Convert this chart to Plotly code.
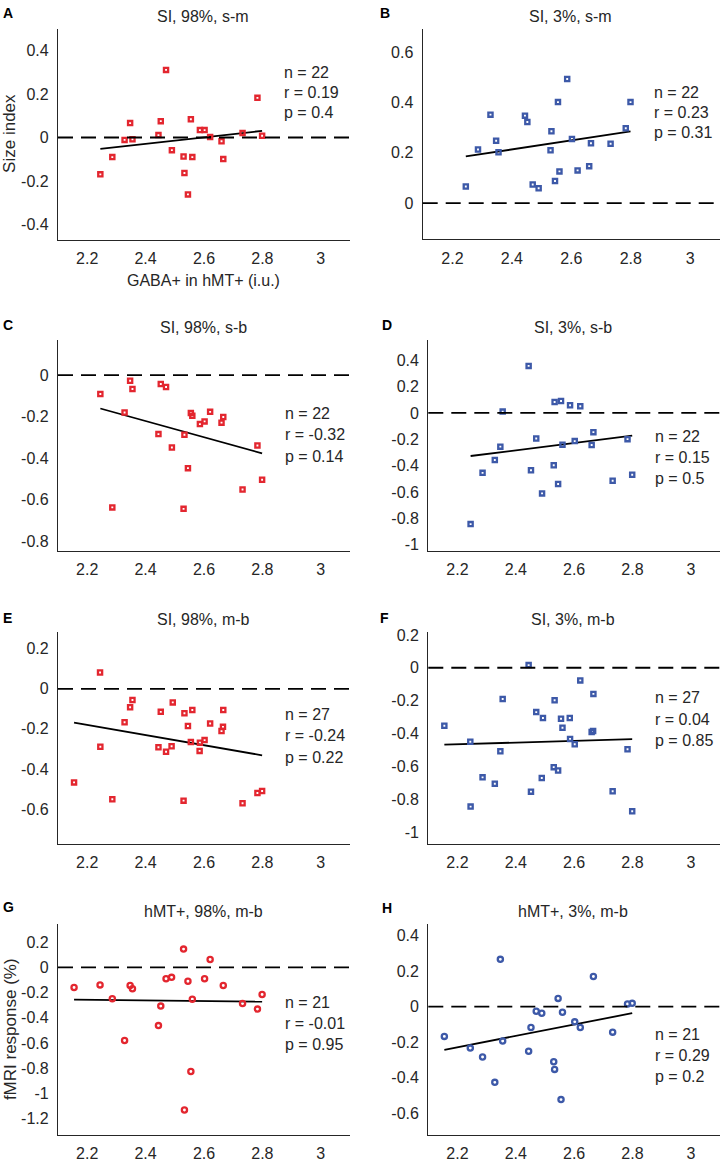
import numpy as np
import plotly.graph_objects as go

W, H = 721, 1162

# ---------------- data ----------------
gaba_22 = [2.245, 2.286, 2.328, 2.347, 2.355, 2.444, 2.452, 2.470, 2.490, 2.530, 2.533,
           2.545, 2.555, 2.560, 2.586, 2.602, 2.621, 2.660, 2.666, 2.732, 2.783, 2.799]
gaba_27 = [2.155, 2.244, 2.245, 2.286, 2.328, 2.347, 2.355, 2.444, 2.452, 2.470, 2.489,
           2.493, 2.530, 2.533, 2.545, 2.555, 2.560, 2.585, 2.586, 2.602, 2.621, 2.660,
           2.665, 2.666, 2.732, 2.783, 2.799]
gaba_21 = [2.155, 2.244, 2.286, 2.328, 2.347, 2.355, 2.444, 2.452, 2.470, 2.489, 2.530,
           2.533, 2.545, 2.555, 2.560, 2.602, 2.621, 2.666, 2.732, 2.783, 2.799]

si_98_sm = [-0.169, -0.090, -0.011, 0.066, -0.008, 0.011, 0.075, 0.310, -0.058, -0.087, -0.163,
            -0.261, 0.084, -0.090, 0.034, 0.034, 0.002, -0.017, -0.099, 0.021, 0.182, 0.008]
si_3_sm = [0.066, 0.213, 0.352, 0.248, 0.202, 0.348, 0.323, 0.074, 0.059, 0.210, 0.286,
           0.088, 0.402, 0.126, 0.494, 0.255, 0.130, 0.147, 0.238, 0.236, 0.298, 0.402]
si_98_sb = [-0.091, -0.637, -0.180, -0.027, -0.067, -0.284, -0.043, -0.057, -0.349, -0.644, -0.287,
            -0.448, -0.182, -0.196, -0.236, -0.223, -0.177, -0.229, -0.202, -0.551, -0.339, -0.504]
si_3_sb = [-0.844, -0.455, -0.357, -0.256, 0.010, 0.357, -0.435, -0.194, -0.611, -0.397, 0.083,
           -0.540, 0.090, -0.241, 0.058, -0.214, 0.050, -0.244, -0.146, -0.515, -0.199, -0.470]
si_98_mb = [-0.467, 0.081, -0.289, -0.551, -0.167, -0.092, -0.056, -0.292, -0.115, -0.314, -0.287,
            -0.068, -0.558, -0.122, -0.186, -0.266, -0.106, -0.310, -0.269, -0.256, -0.173, -0.211,
            -0.190, -0.106, -0.571, -0.520, -0.510]
si_3_mb = [-0.353, -0.450, -0.845, -0.667, -0.706, -0.508, -0.190, 0.016, -0.754, -0.270, -0.671,
           -0.306, -0.605, -0.198, -0.625, -0.310, -0.365, -0.306, -0.433, -0.466, -0.077, -0.391,
           -0.385, -0.159, -0.752, -0.496, -0.873]
fmri_98_mb = [-0.160, -0.139, -0.249, -0.580, -0.144, -0.170, -0.462, -0.307, -0.090, -0.079, 0.145,
              -1.132, -0.110, -0.826, -0.252, -0.090, 0.063, -0.144, -0.286, -0.331, -0.215]
fmri_3_mb = [-0.168, -0.234, -0.284, -0.427, 0.266, -0.194, -0.252, -0.118, -0.026, -0.038, -0.311,
             -0.354, 0.046, -0.524, -0.032, -0.086, -0.118, 0.169, -0.144, 0.015, 0.018]

titles = ["SI, 98%, s-m", "SI, 3%, s-m", "SI, 98%, s-b", "SI, 3%, s-b",
          "SI, 98%, m-b", "SI, 3%, m-b", "hMT+, 98%, m-b", "hMT+, 3%, m-b"]
labels = ["A", "B", "C", "D", "E", "F", "G", "H"]
stat_n = ["22", "22", "22", "22", "27", "27", "21", "21"]
stat_r = ["0.19", "0.23", "-0.32", "0.15", "-0.24", "0.04", "-0.01", "0.29"]
stat_p = ["0.4", "0.31", "0.14", "0.5", "0.22", "0.85", "0.95", "0.2"]
xs = [gaba_22, gaba_22, gaba_22, gaba_22, gaba_27, gaba_27, gaba_21, gaba_21]
ys = [si_98_sm, si_3_sm, si_98_sb, si_3_sb, si_98_mb, si_3_mb, fmri_98_mb, fmri_3_mb]
y_ranges = [(-0.47, 0.5), (-0.145, 0.695), (-0.845, 0.17), (-1.045, 0.555),
            (-0.773, 0.282), (-1.071, 0.216), (-1.329, 0.344), (-0.723, 0.465)]
y_ticks = [[-0.4, -0.2, 0, 0.2, 0.4], [0, 0.2, 0.4, 0.6], [-0.8, -0.6, -0.4, -0.2, 0],
           [-1, -0.8, -0.6, -0.4, -0.2, 0, 0.2, 0.4], [-0.6, -0.4, -0.2, 0, 0.2],
           [-1, -0.8, -0.6, -0.4, -0.2, 0, 0.2], [-1.2, -1, -0.8, -0.6, -0.4, -0.2, 0, 0.2],
           [-0.6, -0.4, -0.2, 0, 0.2, 0.4]]
x_ticks = [2.2, 2.4, 2.6, 2.8, 3]
x_range = (2.1, 3.1)

RED = "#E3262F"
BLUE = "#3D59A8"
colors = [RED, BLUE] * 4
symbols = ["square-open"] * 6 + ["circle-open"] * 2

# ---------------- layout (pixel boxes) ----------------
boxes = [  # left, right, top, bottom in pixels
    (58, 350, 22.7, 236), (422.7, 720, 22.7, 235.5),
    (58, 350, 336.7, 549.3), (428.3, 720, 336.7, 549.3),
    (58, 350, 631.7, 845), (428.3, 720, 631.7, 845),
    (58, 350, 926, 1138.7), (428.3, 720, 926, 1138.7),
]
label_pos = [(1, 7), (378, 7), (1, 322), (380, 322), (1, 617), (378, 617), (1, 909), (380, 910)]
stat_pos = [(282, 67), (652, 87), (283, 411), (653, 434), (283, 715), (653, 698), (283, 1005), (653, 1037)]
stat_gap = [20.3, 20.3, 21.5, 21.5, 21.3, 21.3, 21.3, 21.3]

FONT = "Liberation Sans, Arial, sans-serif"
TXT = "#262626"


def fmt(v):
    return "%g" % v


def px(x):
    return x / W


def py(y):
    return 1 - y / H


fig = go.Figure()
shapes = []
annotations = []
layout_axes = {}

for i in range(8):
    k = "" if i == 0 else str(i + 1)
    xa, ya = "x" + k, "y" + k
    l, r, t, b = boxes[i]
    layout_axes["xaxis" + k] = dict(
        domain=[px(l), px(r)], range=list(x_range), anchor=ya, fixedrange=True,
        tickvals=x_ticks, ticktext=[fmt(v) for v in x_ticks],
        showgrid=False, zeroline=False, showline=True, linecolor=TXT, linewidth=1.3,
        ticks="", ticklabelstandoff=4, tickfont=dict(family=FONT, size=16, color=TXT),
    )
    layout_axes["yaxis" + k] = dict(
        domain=[py(b), py(t)], range=list(y_ranges[i]), anchor=xa, fixedrange=True,
        tickvals=y_ticks[i], ticktext=[fmt(v) for v in y_ticks[i]],
        showgrid=False, zeroline=False, showline=True, linecolor=TXT, linewidth=1.3,
        ticks="", ticklabelstandoff=5, tickfont=dict(family=FONT, size=16, color=TXT),
    )

    x = np.array(xs[i]); y = np.array(ys[i])
    shapes.append(dict(type="line", xref=xa + " domain", yref=ya, x0=0, x1=1, y0=0, y1=0,
                       line=dict(color="black", width=1.8, dash="15px,8px")))
    slope, inter = np.polyfit(x, y, 1)
    fx = np.array([x.min(), x.max()])
    fig.add_trace(go.Scatter(x=fx, y=slope * fx + inter, mode="lines", xaxis=xa, yaxis=ya,
                             line=dict(color="black", width=1.8), showlegend=False, hoverinfo="skip"))
    fig.add_trace(go.Scatter(x=x, y=y, mode="markers", xaxis=xa, yaxis=ya, showlegend=False,
                             marker=dict(symbol=symbols[i], size=4.2 if i < 6 else 5.2,
                                         color=colors[i], line=dict(color=colors[i], width=2.3))))

    annotations.append(dict(text=titles[i], x=px((l + r) / 2 - 1), y=py(t - 12.5), xref="paper", yref="paper",
                            showarrow=False, xanchor="center", yanchor="middle",
                            font=dict(family=FONT, size=16, color=TXT)))
    lx, ly = label_pos[i]
    annotations.append(dict(text="<b>" + labels[i] + "</b>", x=px(lx), y=py(ly), xref="paper", yref="paper",
                            showarrow=False, xanchor="left", yanchor="middle",
                            font=dict(family=FONT, size=14, color="black")))
    sx, sy = stat_pos[i]
    for j, line in enumerate(["n = " + stat_n[i], "r = " + stat_r[i], "p = " + stat_p[i]]):
        annotations.append(dict(text=line, x=px(sx), y=py(sy + j * stat_gap[i]), xref="paper", yref="paper",
                                showarrow=False, xanchor="left", yanchor="middle",
                                font=dict(family=FONT, size=16, color=TXT)))

annotations.append(dict(text="GABA+ in hMT+ (i.u.)", x=px(203), y=py(277), xref="paper", yref="paper",
                        showarrow=False, xanchor="center", yanchor="middle",
                        font=dict(family=FONT, size=16, color=TXT)))
annotations.append(dict(text="Size index", x=px(10), y=py(129), xref="paper", yref="paper", textangle=-90,
                        showarrow=False, xanchor="center", yanchor="middle",
                        font=dict(family=FONT, size=17, color=TXT)))
annotations.append(dict(text="fMRI response (%)", x=px(10), y=py(1032), xref="paper", yref="paper", textangle=-90,
                        showarrow=False, xanchor="center", yanchor="middle",
                        font=dict(family=FONT, size=17, color=TXT)))

fig.update_layout(width=W, height=H, margin=dict(l=0, r=0, t=0, b=0), plot_bgcolor="white",
                  paper_bgcolor="white", shapes=shapes, annotations=annotations, **layout_axes)
fig.write_html("out.html", config={"displayModeBar": False},
               post_script="document.body.style.margin='0';document.body.style.overflow='hidden';")
